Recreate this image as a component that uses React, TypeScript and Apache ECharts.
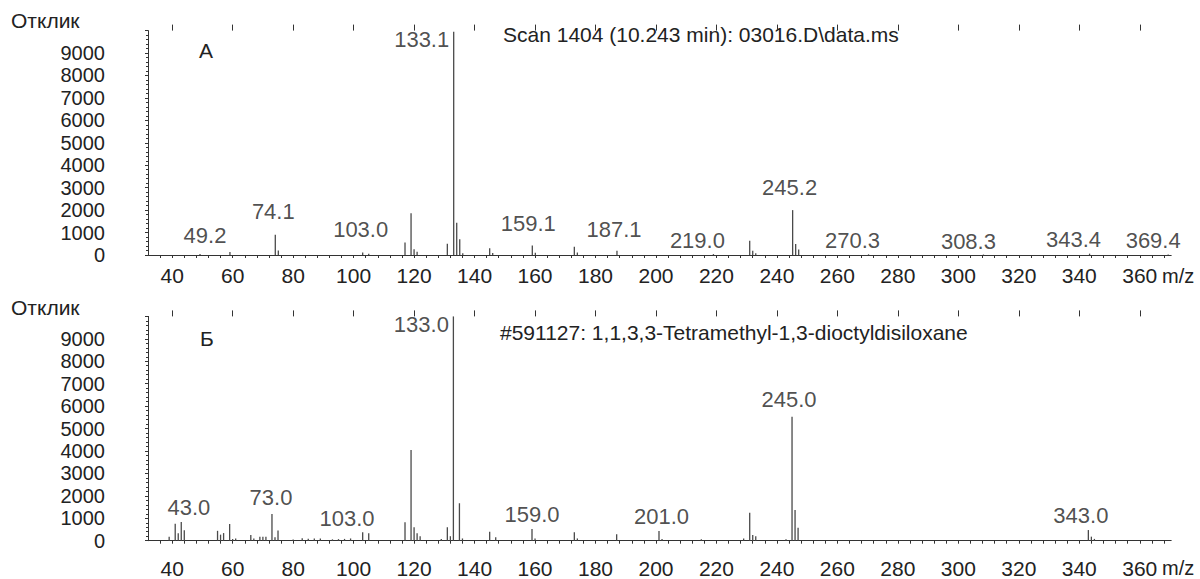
import React, { useEffect, useRef } from 'react';
import * as echarts from 'echarts';

// ---------- data ----------
const xTickLabels = [40, 60, 80, 100, 120, 140, 160, 180, 200, 220, 240, 260, 280, 300, 320, 340, 360];
const yTickLabels = [0, 1000, 2000, 3000, 4000, 5000, 6000, 7000, 8000, 9000];

const yAxisName = 'Отклик';
const xAxisName = 'm/z';
const panelLetters = ['А', 'Б'];
const topTitle = 'Scan 1404 (10.243 min): 03016.D\\data.ms';
const bottomTitle = '#591127: 1,1,3,3-Tetramethyl-1,3-dioctyldisiloxane';

const topMz = [49.2, 59.1, 74.1, 75.1, 103.0, 105.0, 117.0, 119.0, 120.0, 121.0, 131.0, 133.1, 134.1, 135.1, 136.1, 145.0, 146.0, 159.1, 160.1, 173.0, 174.0, 187.1, 219.0, 231.0, 232.0, 233.0, 245.2, 246.2, 247.2, 270.3, 308.3, 343.4, 369.4];
const topIntensity = [40, 130, 900, 200, 110, 60, 560, 1860, 260, 140, 500, 9950, 1440, 700, 80, 300, 90, 420, 100, 370, 110, 190, 40, 630, 190, 80, 2000, 490, 250, 30, 20, 60, 20];
const topPeakLabels = ['49.2', '74.1', '103.0', '133.1', '159.1', '187.1', '219.0', '245.2', '270.3', '308.3', '343.4', '369.4'];

const bottomMz = [39, 41, 42, 43, 44, 55, 56, 57, 59, 60, 61, 66, 67, 69, 70, 71, 73, 74, 75, 80, 83, 85, 87, 89, 93, 95, 97, 99, 103, 105, 117, 119, 120, 121, 122, 129, 131, 132, 133, 135, 136, 145, 147, 159, 160, 173, 174, 187, 201, 202, 215, 229, 231, 232, 233, 243, 245, 246, 247, 343, 344, 345];
const bottomIntensity = [180, 760, 330, 830, 470, 440, 270, 340, 745, 80, 100, 255, 100, 180, 180, 180, 1190, 150, 460, 50, 110, 90, 100, 100, 60, 70, 80, 100, 375, 330, 820, 4045, 600, 330, 200, 80, 600, 200, 9999, 1670, 100, 400, 150, 520, 100, 375, 100, 285, 430, 80, 60, 100, 1250, 255, 200, 60, 5530, 1370, 580, 475, 180, 80];
const bottomPeakLabels = ['43.0', '73.0', '103.0', '133.0', '159.0', '201.0', '245.0', '343.0'];

// ---------- styling / layout ----------
const FONT = '"Liberation Sans", Arial, Helvetica, sans-serif';
const TEXT = '#222';
const AXIS = '#333';
const PEAK = '#4a4a4a';

const topLabelOffsets: Record<string, number[]> = {
  '49.2': [5, -19], '74.1': [-2, -23.5], '103.0': [-2, -23], '133.1': [-32, 7.5],
  '159.1': [-4, -22], '187.1': [-3, -21], '219.0': [-16, -13.5], '245.2': [-3, -22.5],
  '270.3': [-16, -13.5], '308.3': [-15, -13.5], '343.4': [-16, -14], '369.4': [-15, -14],
};
const bottomLabelOffsets: Record<string, number[]> = {
  '43.0': [7.6, -15], '73.0': [-1, -17], '103.0': [-15.6, -13.3], '133.0': [-32, 8],
  '159.0': [0, -15], '201.0': [2.5, -15], '245.0': [-3, -16.7], '343.0': [-7.5, -15],
};

const X_MIN = 32;
const X_MAX = 370.4;

const panels = [
  { top: 30.6, height: 224.4, xLabelMargin: 10, mz: topMz, intensity: topIntensity, labels: topPeakLabels, offsets: topLabelOffsets },
  { top: 316.4, height: 224.3, xLabelMargin: 17, mz: bottomMz, intensity: bottomIntensity, labels: bottomPeakLabels, offsets: bottomLabelOffsets },
];

function buildOption() {
  const grid: any[] = [];
  const xAxis: any[] = [];
  const yAxis: any[] = [];
  const series: any[] = [];
  const lineStyle = { color: AXIS, width: 1 };

  panels.forEach((p, i) => {
    grid.push({ left: 148, right: 28.8, top: p.top, height: p.height, containLabel: false });
    xAxis.push({
      type: 'value', gridIndex: i, min: X_MIN, max: X_MAX, interval: 4,
      axisLine: { show: true, onZero: false, lineStyle },
      axisTick: { show: true, length: 3, lineStyle },
      axisLabel: {
        margin: p.xLabelMargin, fontSize: 21, color: TEXT, fontFamily: FONT,
        showMinLabel: false, showMaxLabel: false,
        formatter: (v: number) => (xTickLabels.indexOf(Math.round(v)) >= 0 && Math.abs(v - Math.round(v)) < 1e-6 ? String(Math.round(v)) : ''),
      },
      splitLine: { show: false },
    });
    xAxis.push({
      type: 'value', gridIndex: i, min: X_MIN, max: X_MAX,
      axisLine: { show: false, onZero: false },
      axisTick: { show: true, length: 6, lineStyle, customValues: xTickLabels },
      axisLabel: { show: false },
      splitLine: { show: false },
    });
    yAxis.push({
      type: 'value', gridIndex: i, min: 0, max: 10000, interval: 1000,
      axisLine: { show: true, lineStyle },
      axisTick: { show: true, length: 3, lineStyle },
      minorTick: { show: true, splitNumber: 5, length: 2, lineStyle },
      axisLabel: {
        margin: 43, fontSize: 20, color: TEXT, fontFamily: FONT,
        formatter: (v: number) => (yTickLabels.indexOf(v) >= 0 ? String(v) : ''),
      },
      splitLine: { show: false },
    });
    series.push({
      type: 'bar', xAxisIndex: i * 2, yAxisIndex: i, barWidth: 1.3, silent: true,
      itemStyle: { color: PEAK },
      data: p.mz.map((m, k) => [m, p.intensity[k]]),
    });
    series.push({
      type: 'scatter', xAxisIndex: i * 2, yAxisIndex: i, symbolSize: 1, silent: true, clip: false,
      itemStyle: { color: 'rgba(0,0,0,0)' },
      label: { show: true, position: 'inside', fontSize: 22, color: TEXT, fontFamily: FONT },
      data: p.labels.map((t) => {
        const m = parseFloat(t);
        const k = p.mz.indexOf(m);
        return { value: [m, p.intensity[k]], label: { formatter: t, offset: p.offsets[t] } };
      }),
    });
  });

  const txt = (text: string, x: number, y: number, size: number) => ({
    type: 'text', x, y, silent: true,
    style: { text, fontSize: size, fontFamily: FONT, fill: TEXT, align: 'left', verticalAlign: 'middle' },
  });

  const graphic = [
    txt(yAxisName, 11, 20.3, 21),
    txt(panelLetters[0], 199, 50, 21),
    txt(topTitle, 503, 34.7, 21),
    txt(xAxisName, 1162, 276, 20),
    txt(yAxisName, 11, 307.5, 21),
    txt(panelLetters[1], 200, 338.5, 21),
    txt(bottomTitle, 500, 332.5, 21),
    txt(xAxisName, 1162, 567.5, 20),
  ];

  return { animation: false, backgroundColor: '#fff', grid, xAxis, yAxis, series, graphic };
}

export default function App() {
  const ref = useRef<HTMLDivElement>(null);
  useEffect(() => {
    if (!ref.current) return;
    const chart = echarts.init(ref.current, undefined, { renderer: 'svg' });
    chart.setOption(buildOption() as any);
    return () => chart.dispose();
  }, []);
  return (
    <div
      ref={ref}
      style={{ position: 'absolute', left: 0, top: 0, width: 1200, height: 579, background: '#fff' }}
    />
  );
}
